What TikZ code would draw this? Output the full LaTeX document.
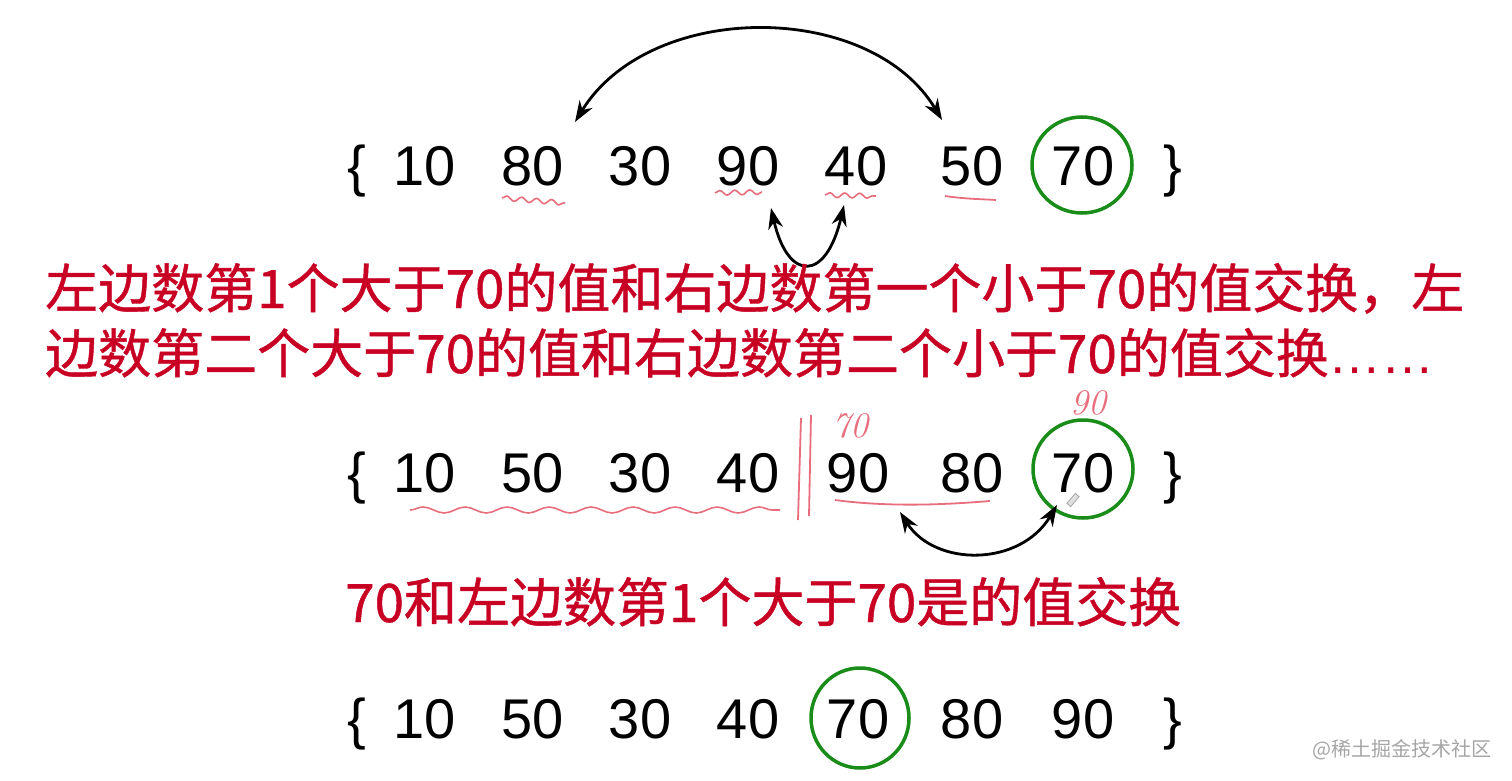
\documentclass[tikz,border=0pt]{standalone}
\usepackage{fontspec}
\newfontfamily\numfont{Liberation Sans}
\newfontfamily\cjk{Noto Sans CJK SC}[FakeBold=0.8]
\newfontfamily\cjkwm{Noto Sans CJK SC}
\usetikzlibrary{arrows.meta,decorations.pathmorphing}
\definecolor{txtred}{RGB}{200,0,35}
\definecolor{circgreen}{RGB}{25,140,25}
\definecolor{pen}{RGB}{232,110,125}
\begin{document}
\begin{tikzpicture}[x=1pt,y=-1pt,
  num/.style={font=\numfont\fontsize{56}{60}\selectfont, inner sep=0pt, anchor=base},
  redtxt/.style={font=\cjk\fontsize{53}{60}\selectfont, text=txtred, inner sep=0pt, anchor=base west},
  circ/.style={draw=circgreen, line width=3.5pt},
  arr/.style={line width=2.8pt, {Stealth[length=21pt,width=15pt]}-{Stealth[length=21pt,width=15pt]}},
  squig/.style={draw=pen, line width=1.6pt, decorate, decoration={snake, amplitude=2.4pt, segment length=15pt}},
  penline/.style={draw=pen, line width=1.8pt},
  hand/.style={font=\itshape\fontsize{36}{36}\selectfont, text=pen, inner sep=0pt}
]
\useasboundingbox (0,0) rectangle (1512,781);
\fill[white] (0,0) rectangle (1512,781);

% ---------- row 1 ----------
\node[num] (al) at (357,185) {\{};
\node[num] (a1) at (425,185) {10};
\node[num] (a2) at (533,185) {80};
\node[num] (a3) at (640,185) {30};
\node[num] (a4) at (748,185) {90};
\node[num] (a5) at (856,185) {40};
\node[num] (a6) at (972,185) {50};
\node[num] (a7) at (1083,185) {70};
\node[num] (ar) at (1173,185) {\}};
\draw[circ] (1082,165) ellipse [x radius=50pt, y radius=48pt];

\coordinate (t1) at (575,122);
\coordinate (t2) at (942,120);
\draw[arr] (t1) .. controls (650,0) and (870,0) .. (t2);

\coordinate (s1) at (771,208);
\coordinate (s2) at (844,205);
\draw[arr] (s1) .. controls (788,282) and (826,282) .. (s2);

\draw[squig] (502,198) -- (565,203);
\draw[squig] (715,193) -- (762,192);
\draw[squig] (825,195) -- (876,196);
\draw[penline] (945,196) .. controls (965,199) and (980,199) .. (996,200);

% ---------- red text ----------
\node[redtxt] (l1) at (45,308) {左边数第1个大于70的值和右边数第一个小于70的值交换，左};
\node[redtxt] (l2) at (45,373) {边数第二个大于70的值和右边数第二个小于70的值交换{\numfont ……}};

% ---------- row 2 ----------
\node[num] (bl) at (357,492) {\{};
\node[num] (b1) at (425,492) {10};
\node[num] (b2) at (533,492) {50};
\node[num] (b3) at (640,492) {30};
\node[num] (b4) at (748,492) {40};
\node[num] (b5) at (858,492) {90};
\node[num] (b6) at (972,492) {80};
\node[num] (b7) at (1083,492) {70};
\node[num] (br) at (1173,492) {\}};
\draw[circ] (1083,469) ellipse [x radius=50pt, y radius=49pt];

\draw[penline] (801,418) -- (798,520);
\draw[penline] (811,415) -- (809,516);
\draw[squig, decoration={snake, amplitude=3pt, segment length=42pt}] (410,510) -- (780,510);
\draw[penline] (835,500) .. controls (880,506) and (930,506) .. (990,501);

\node[hand] (h70) at (850,426) {70};
\node[hand] (h90) at (1088,403) {90};
\node[draw=gray!70, fill=gray!25, line width=0.8pt, minimum width=5pt, minimum height=13pt, inner sep=0pt, rotate=-40] (pencil) at (1073,500) {};

\coordinate (u1) at (900,512);
\coordinate (u2) at (1057,505);
\draw[arr] (u1) .. controls (935,567) and (1020,567) .. (u2);

\node[redtxt] (l3) at (345,622) {70和左边数第1个大于70是的值交换};

% ---------- row 3 ----------
\node[num] (cl) at (357,738) {\{};
\node[num] (c1) at (425,738) {10};
\node[num] (c2) at (533,738) {50};
\node[num] (c3) at (640,738) {30};
\node[num] (c4) at (748,738) {40};
\node[num] (c5) at (858,738) {70};
\node[num] (c6) at (972,738) {80};
\node[num] (c7) at (1083,738) {90};
\node[num] (cr) at (1173,738) {\}};
\draw[circ] (860,718) ellipse [x radius=49pt, y radius=50pt];

% ---------- watermark ----------
\node[font=\cjkwm\fontsize{20}{20}\selectfont, text=black!35, inner sep=0pt, anchor=base east] (wm) at (1492,756) {@稀土掘金技术社区};
\end{tikzpicture}
\end{document}
